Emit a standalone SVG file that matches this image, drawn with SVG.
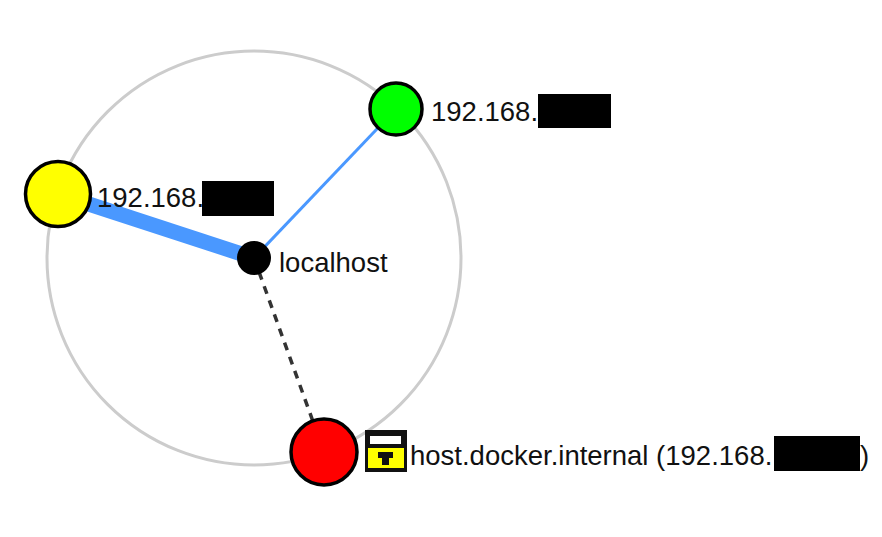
<svg xmlns="http://www.w3.org/2000/svg" width="882" height="537" viewBox="0 0 882 537">
<style>
text{font-family:"Liberation Sans",Arial,sans-serif;font-size:27.5px;fill:#111}
.node{stroke:#000;stroke-width:3.5}
.link{stroke:#4a98ff;fill:none}
.mask{fill:#000}
</style>
<rect width="882" height="537" fill="#fff"/>
<circle id="ring" cx="254" cy="258" r="207" fill="none" stroke="#ccc" stroke-width="3"/>
<g id="connectors">
<line class="link" x1="254" y1="258" x2="58" y2="194" stroke-width="15"/>
<line class="link" x1="254" y1="258" x2="396" y2="109" stroke-width="3"/>
<line x1="254" y1="258" x2="324" y2="452" stroke="#333" stroke-width="3.5" stroke-dasharray="8 7"/>
</g>
<g id="node-yellow">
<circle class="node" cx="58" cy="194" r="32.500" fill="#ff0"/>
<text x="97" y="207">192.168.</text>
<rect class="mask" x="202" y="181" width="72" height="35"/>
</g>
<g id="node-green">
<circle class="node" cx="396" cy="109" r="26" fill="#0f0"/>
<text x="431" y="121">192.168.</text>
<rect class="mask" x="538" y="94" width="73" height="34"/>
</g>
<g id="node-localhost">
<circle cx="254" cy="258" r="17" fill="#000"/>
<text x="279" y="272">localhost</text>
</g>
<g id="node-red">
<circle class="node" cx="324" cy="452" r="33" fill="#f00"/>
<g id="lock">
<rect x="365" y="430" width="42" height="42" fill="#111"/>
<rect x="370" y="436" width="31" height="8" fill="#fff"/>
<rect x="368" y="448" width="36" height="20" fill="#ff0"/>
<path d="M378 452h15v6h-4v7h-7v-7h-4z" fill="#111"/>
</g>
<text x="410" y="465">host.docker.internal (192.168.</text>
<rect class="mask" x="774" y="436" width="86" height="35"/>
<text x="860" y="465">)</text>
</g>
</svg>
